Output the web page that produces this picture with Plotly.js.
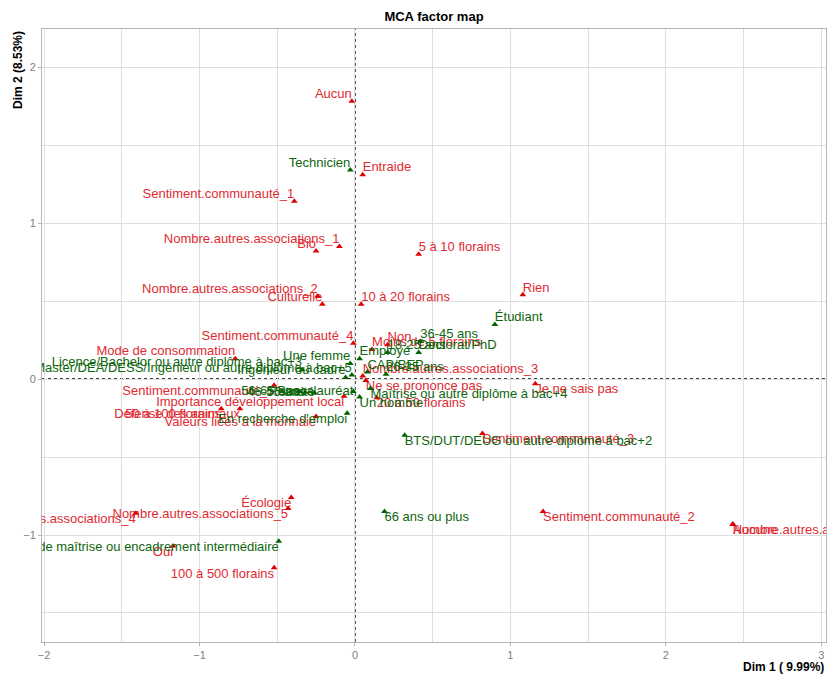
<!DOCTYPE html>
<html>
<head>
<meta charset="utf-8">
<script src="https://cdn.plot.ly/plotly-3.0.1.min.js"></script>
<style>html,body{margin:0;padding:0;background:#fff;}#chart{width:828px;height:675px;}</style>
</head>
<body>
<div id="chart"></div>
<script>
// Active categories (red)
const redLabels = [
  "Aucun","Entraide","Sentiment.communauté_1","Bio","Nombre.autres.associations_1",
  "5 à 10 florains","Nombre.autres.associations_2","Culturelle","10 à 20 florains","Rien",
  "Sentiment.communauté_4","Mode de consommation","Non","Moins de 5 florains",
  "Nombre.autres.associations_3","Ne se prononce pas","Je ne sais pas","20 à 50 florains",
  "Sentiment.communauté_3","Sentiment.communauté_5","Importance développement local",
  "50 à 100 florains","Défense des animaux","Valeurs liées à la monnaie","Écologie",
  "Nombre.autres.associations_5","Nombre.autres.associations_4","Oui","100 à 500 florains",
  "Sentiment.communauté_2","Nombre.autres.associations_0","Aucune"
];
const redDim1 = [-0.02,0.05,-0.39,-0.25,-0.10,0.41,-0.24,-0.21,0.04,1.08,-0.01,-0.77,0.21,0.11,0.05,0.07,1.16,0.14,0.82,-0.52,-0.07,-0.86,-0.74,-0.25,-0.41,-0.43,-1.41,-1.17,-0.52,1.21,2.43,2.432];
const redDim2 = [1.78,1.31,1.14,0.82,0.85,0.80,0.53,0.48,0.48,0.54,0.23,0.13,0.22,0.19,0.02,-0.01,-0.03,-0.12,-0.35,-0.04,-0.11,-0.19,-0.19,-0.24,-0.76,-0.83,-0.86,-1.07,-1.21,-0.85,-0.93,-0.932];

// Supplementary categories (green)
const greenLabels = [
  "Technicien","Étudiant","36-45 ans","Doctorat/PhD","18-25 ans","Employé","CAP/BEP","26-35 ans",
  "Une femme","Ingénieur ou cadre","Master/DEA/DESS/Ingénieur ou autre diplôme à bac+5",
  "Licence/Bachelor ou autre diplôme à bac+3","Maîtrise ou autre diplôme à bac+4","Un homme",
  "BTS/DUT/DEUG ou autre diplôme à bac+2","66 ans ou plus",
  "Agent de maîtrise ou encadrement intermédiaire","En recherche d'emploi","Baccalauréat",
  "56-65 ans","46-55 ans","Retraité"
];
const greenDim1 = [-0.03,0.90,0.42,0.41,0.21,0.03,0.08,0.20,-0.03,-0.06,-0.02,-0.34,0.10,0.03,0.32,0.19,-0.49,-0.05,-0.01,-0.36,-0.32,-0.26];
const greenDim2 = [1.34,0.35,0.24,0.17,0.17,0.13,0.045,0.03,0.10,0.01,0.025,0.06,-0.06,-0.115,-0.36,-0.85,-1.04,-0.22,-0.08,-0.08,-0.085,-0.09];

// label placement (style)
const redTextPos = ["top left","top right","top left","top left","top left","top right","top left","top left","top right","top right",
  "top left","top left","top right","top right","top right","bottom right","bottom right","bottom right","bottom right","bottom left",
  "bottom left","bottom left","bottom left","bottom left","bottom left","bottom left","bottom left","bottom left","bottom left","bottom right","bottom right","bottom right"];
const greenTextPos = ["top left","top right","top right","top right","top right","top right","top right","top right",
  "top left","top left","top left","top left","bottom right","bottom right","bottom right","bottom right",
  "bottom left","bottom left","middle left","middle left","middle left","middle left"];

const FONT = "Liberation Sans, Arial, sans-serif";
const RED_TXT = "#E02A32";
const GREEN_TXT = "#0E660E";

const traces = [
  {type:"scatter", mode:"text", x:redDim1, y:redDim2, text:redLabels, textposition:redTextPos,
   textfont:{family:FONT, size:13, color:RED_TXT}, cliponaxis:true, hoverinfo:"skip", showlegend:false},
  {type:"scatter", mode:"markers", x:redDim1, y:redDim2,
   marker:{symbol:"triangle-up", size:6, color:"#E00000"}, cliponaxis:true, hoverinfo:"skip", showlegend:false},
  {type:"scatter", mode:"text", x:greenDim1, y:greenDim2, text:greenLabels, textposition:greenTextPos,
   textfont:{family:FONT, size:13, color:GREEN_TXT}, cliponaxis:true, hoverinfo:"skip", showlegend:false},
  {type:"scatter", mode:"markers", x:greenDim1, y:greenDim2,
   marker:{symbol:"triangle-up", size:6, color:"#006400"}, cliponaxis:true, hoverinfo:"skip", showlegend:false}
];

const axisCommon = {
  showgrid:true, gridcolor:"#dedede", gridwidth:1, dtick:1, tick0:0,
  minor:{dtick:0.5, showgrid:true, gridcolor:"#dedede", gridwidth:1},
  zeroline:false, showline:true, mirror:true, linecolor:"#b5b5b5", linewidth:1,
  ticks:"outside", ticklen:3, tickcolor:"#b5b5b5",
  tickfont:{family:FONT, size:11, color:"#7f7f7f"}
};

const layout = {
  width:828, height:675,
  margin:{l:42, r:2, t:29, b:33},
  paper_bgcolor:"#fff", plot_bgcolor:"#fff",
  font:{family:FONT},
  title:{text:"<b>MCA factor map</b>", font:{family:FONT, size:13, color:"#000"}, x:0.5, xref:"paper", xanchor:"center", y:0.975, yref:"container", yanchor:"middle"},
  xaxis:Object.assign({}, axisCommon, {range:[-2.013, 3.03]}),
  yaxis:Object.assign({}, axisCommon, {range:[-1.686, 2.244]}),
  shapes:[
    {type:"line", xref:"x", yref:"paper", x0:0, x1:0, y0:0, y1:1, line:{color:"#000", width:1.4, dash:"3px,3px"}, layer:"below"},
    {type:"line", xref:"paper", yref:"y", x0:0, x1:1, y0:0, y1:0, line:{color:"#000", width:1.4, dash:"3px,3px"}, layer:"below"}
  ],
  annotations:[
    {text:"<b>Dim 1 ( 9.99%)</b>", xref:"paper", yref:"paper", x:1, y:0, xanchor:"right", yanchor:"top", yshift:-16, showarrow:false, font:{family:FONT, size:12, color:"#000"}},
    {text:"<b>Dim 2 (8.53%)</b>", xref:"paper", yref:"paper", x:0, y:1, xanchor:"center", yanchor:"top", xshift:-24, textangle:-90, showarrow:false, font:{family:FONT, size:12, color:"#000"}}
  ]
};

Plotly.newPlot("chart", traces, layout, {displayModeBar:false, staticPlot:true});
</script>
</body>
</html>
